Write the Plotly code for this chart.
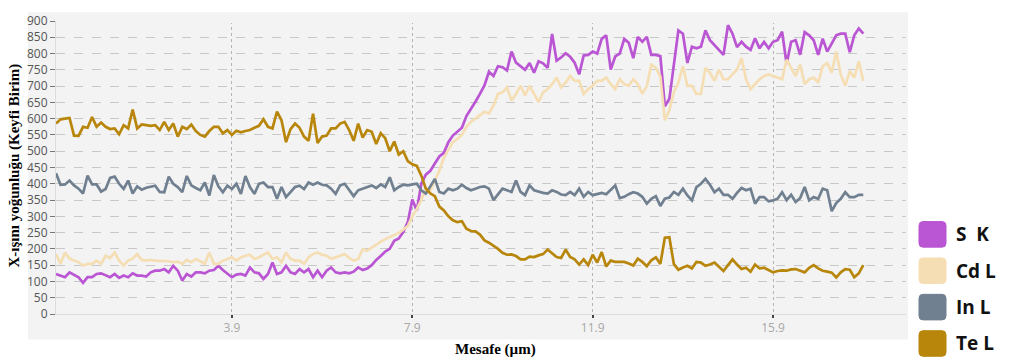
import numpy as np
import plotly.graph_objects as go

# distance grid (µm), one sample every 0.1 µm
distance = np.round(np.arange(180) * 0.1, 1)

series_names = ["S\u00a0\u00a0K", "Cd L", "In L", "Te L"]
series_colors = ["#ba55d3", "#f5deb3", "#708090", "#b8860b"]

s_k = [123,118,113,128,121,113,96,113,113,123,
       125,118,113,123,111,118,113,125,118,118,
       115,128,133,133,138,128,148,133,103,123,
       115,128,128,125,133,135,148,135,123,113,
       121,123,118,143,128,125,108,123,158,123,
       128,148,128,123,138,128,138,113,133,113,
       133,143,128,125,128,125,130,143,135,140,
       150,166,178,192,200,225,232,252,282,352,
       318,400,428,440,462,484,495,528,548,560,
       572,608,628,652,676,702,744,731,761,758,
       748,806,772,762,750,771,741,776,770,756,
       860,778,788,801,790,772,736,794,796,806,
       800,845,856,751,791,800,845,833,786,851,
       836,851,796,796,792,638,661,766,871,861,
       771,821,816,821,871,841,826,811,796,887,
       861,820,836,821,811,847,816,836,816,836,
       841,867,768,836,841,796,866,856,841,796,
       846,806,831,856,861,861,804,856,877,861]

cd_l = [184,154,189,170,164,159,149,154,154,164,
        154,179,172,189,164,149,164,170,184,166,
        164,166,164,164,164,162,159,161,154,166,
        159,169,162,154,189,154,154,164,169,174,
        164,174,179,182,169,174,182,189,169,174,
        159,189,169,164,164,154,174,184,189,182,
        179,170,174,179,184,172,164,169,199,194,
        204,212,222,230,236,244,249,259,270,300,
        322,350,385,380,412,440,480,505,528,538,
        550,575,590,600,612,621,616,640,676,681,
        696,656,676,701,671,701,676,651,681,691,
        706,726,696,711,731,716,716,676,691,701,
        716,716,726,706,691,721,706,701,721,706,
        676,700,766,756,730,595,626,681,711,761,
        701,701,676,676,756,741,716,751,721,721,
        736,751,786,721,691,706,721,731,736,731,
        726,721,781,756,731,766,706,721,726,711,
        761,771,741,806,736,701,746,726,776,716]

in_l = [432,397,398,410,395,385,370,425,398,398,
        376,384,418,422,400,384,410,370,392,382,
        388,390,394,375,374,422,400,390,374,424,
        395,387,380,404,364,427,392,374,394,384,
        400,369,424,390,369,400,404,390,390,354,
        390,359,374,390,394,384,404,397,404,397,
        395,385,369,395,400,380,362,380,385,388,
        395,387,398,390,420,380,390,397,395,398,
        400,380,370,392,415,375,370,385,380,385,
        397,387,380,385,390,392,385,350,369,385,
        380,375,410,375,365,395,380,375,372,370,
        380,375,367,365,375,365,385,360,375,365,
        369,372,368,383,395,356,360,368,374,370,
        360,339,354,362,332,354,358,375,366,385,
        364,349,390,400,415,397,374,385,366,366,
        354,372,387,380,385,339,359,359,346,349,
        354,374,350,366,344,356,390,349,359,354,
        385,380,316,341,354,374,359,359,366,366]

te_l = [585,598,600,602,548,547,575,572,605,575,
        588,575,568,570,552,580,570,628,570,582,
        580,578,580,565,590,565,585,545,575,568,
        582,562,550,545,562,575,575,555,565,550,
        563,558,562,565,572,578,598,575,570,622,
        595,528,568,585,572,545,532,615,525,545,
        548,570,570,585,590,565,532,585,542,565,
        560,522,555,540,500,530,490,500,470,460,
        455,425,385,370,362,330,318,300,288,282,
        285,262,255,254,244,226,219,210,200,188,
        182,183,178,168,168,176,175,180,184,198,
        185,175,172,198,175,168,152,168,150,182,
        158,190,146,164,160,160,160,155,149,170,
        160,147,165,174,154,234,236,153,136,143,
        148,140,160,158,148,152,158,145,132,150,
        168,152,138,142,130,152,140,142,134,128,
        132,134,133,137,138,134,128,142,150,140,
        133,130,127,112,128,138,136,113,125,150]

x_tickvals = [3.9, 7.9, 11.9, 15.9]
y_tickvals = list(range(0, 901, 50))

fig = go.Figure()
for name, color, vals in zip(series_names, series_colors, [s_k, cd_l, in_l, te_l]):
    fig.add_trace(go.Scatter(x=distance, y=vals, mode="lines", name=name,
                             line=dict(color=color, width=2.7), showlegend=False))

L, R, T, B = 56, 104, 16, 46
W, H = 1010, 360
pw, ph = W - L - R, H - T - B
PANEL = "#f3f3f3"

def px_to_paper_x(px):
    return (px - L) / pw

def py_to_paper_y(py):
    return (H - B - py) / ph

shapes = []
# grey panel behind the chart
shapes.append(dict(type="rect", xref="paper", yref="paper",
                   x0=px_to_paper_x(28), x1=px_to_paper_x(908),
                   y0=py_to_paper_y(340), y1=py_to_paper_y(7),
                   fillcolor=PANEL, line=dict(width=0), layer="below"))
# hide the grid line on the top edge (reference has none there)
shapes.append(dict(type="line", xref="paper", yref="y", x0=0.002, x1=1, y0=900, y1=900,
                   line=dict(color=PANEL, width=4), layer="above"))

annotations = []
# legend drawn at right
for k, (name, color) in enumerate(zip(series_names, series_colors)):
    cy = 233 + 37 * k
    x0, x1 = 919, 946
    y0, y1 = cy - 13, cy + 13
    r = 4
    X = lambda p: px_to_paper_x(p)
    Y = lambda p: py_to_paper_y(p)
    path = (f"M {X(x0+r)},{Y(y0)} L {X(x1-r)},{Y(y0)} Q {X(x1)},{Y(y0)} {X(x1)},{Y(y0+r)} "
            f"L {X(x1)},{Y(y1-r)} Q {X(x1)},{Y(y1)} {X(x1-r)},{Y(y1)} "
            f"L {X(x0+r)},{Y(y1)} Q {X(x0)},{Y(y1)} {X(x0)},{Y(y1-r)} "
            f"L {X(x0)},{Y(y0+r)} Q {X(x0)},{Y(y0)} {X(x0+r)},{Y(y0)} Z")
    shapes.append(dict(type="path", xref="paper", yref="paper", path=path,
                       fillcolor=color, line=dict(color=color, width=1)))
    annotations.append(dict(xref="paper", yref="paper", x=px_to_paper_x(954), y=py_to_paper_y(cy),
                            xanchor="left", yanchor="middle", showarrow=False,
                            text=f"<b>{name}</b>",
                            font=dict(family="Open Sans", size=19, color="#111111")))

annotations.append(dict(xref="paper", yref="paper", x=px_to_paper_x(15), y=py_to_paper_y(163),
                        xanchor="center", yanchor="middle", showarrow=False, textangle=-90,
                        text="<b>X-ışını yoğunluğu (Keyfi Birim)</b>",
                        font=dict(family="Liberation Serif", size=15, color="#000000")))
annotations.append(dict(xref="paper", yref="paper", x=px_to_paper_x(495), y=py_to_paper_y(350),
                        xanchor="center", yanchor="middle", showarrow=False,
                        text="<b>Mesafe (µm)</b>",
                        font=dict(family="Liberation Serif", size=15, color="#000000")))

fig.update_layout(
    width=W, height=H,
    margin=dict(l=L, r=R, t=T, b=B, pad=0),
    paper_bgcolor="white",
    plot_bgcolor="rgba(0,0,0,0)",
    shapes=shapes,
    annotations=annotations,
    showlegend=False,
    xaxis=dict(range=[0, (906 - L) / 45.1], tickvals=x_tickvals, ticktext=[str(v) for v in x_tickvals],
               showgrid=True, gridcolor="#b5b5b5", griddash="dot", gridwidth=1,
               ticks="outside", ticklen=3, tickcolor="#444444", tickwidth=2,
               showline=True, linecolor="#dcdcdc", linewidth=1,
               zeroline=False,
               tickfont=dict(family="Open Sans", size=12, color="#a8a8a8")),
    yaxis=dict(range=[0, 900], tickvals=y_tickvals,
               showgrid=True, gridcolor="#c8c8c8", griddash="dash", gridwidth=1,
               ticks="outside", ticklen=5, tickcolor="#777777",
               showline=True, linecolor="#dcdcdc", linewidth=1,
               zeroline=False,
               tickfont=dict(family="Open Sans", size=12, color="#555555")),
)

fig.write_html("out.html", config={"displayModeBar": False},
               post_script="document.body.style.margin='0px';document.body.style.overflow='hidden';")
